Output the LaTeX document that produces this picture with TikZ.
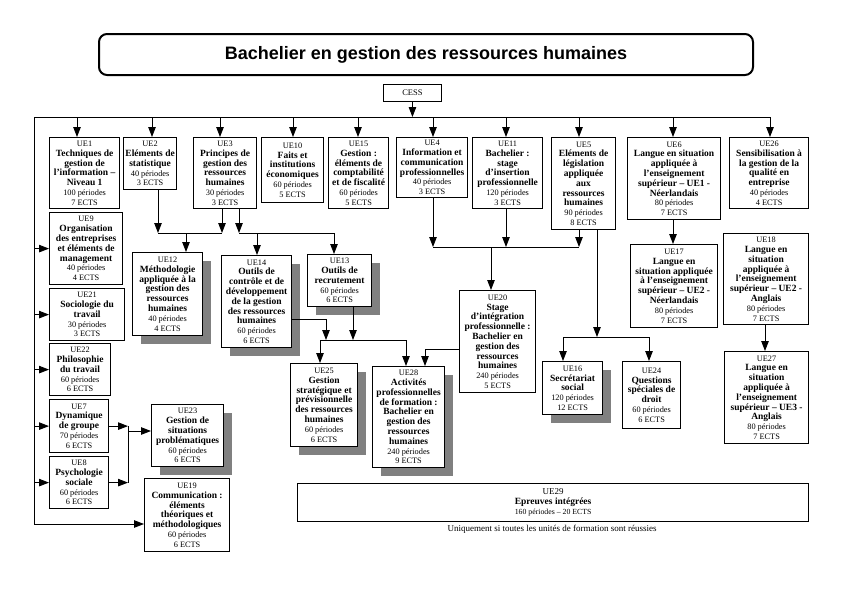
\documentclass[tikz,border=0pt]{standalone}
\usepackage{fontspec}
\setmainfont{Liberation Serif}
\newfontfamily\titlefont{Liberation Sans}
\usetikzlibrary{arrows.meta,shadows}
\definecolor{shgray}{RGB}{128,128,128}
\newcommand{\sm}[1]{{\fontsize{8.3}{9}\selectfont\mdseries #1}}
\begin{document}
\begin{tikzpicture}[x=1pt,y=-1pt,
  ue/.style={draw, line width=1.2pt, fill=white, anchor=north west, inner sep=1.5pt,
    align=center, font=\fontsize{9.5}{9.8}\selectfont\bfseries},
  sh/.style={ue, drop shadow={shadow xshift=8.5pt, shadow yshift=-8.5pt, fill=shgray, opacity=1}},
  con/.style={line width=0.9pt, -{Triangle[width=7.5pt,length=10pt]}},
  ln/.style={line width=0.9pt},
  ttl/.style={draw, line width=2pt, rounded corners=8pt, anchor=north west,
    font={\titlefont\bfseries\fontsize{18}{20}\selectfont}},
  small/.style={draw, line width=0.9pt, anchor=north west, inner sep=1pt,
    font=\fontsize{8.5}{9}\selectfont}
]
\useasboundingbox (0,0) rectangle (842,595);

% title and CESS
\node[ttl, minimum width=654pt, minimum height=41pt] (title) at (98,33) {Bachelier en gestion des ressources humaines};
\node[small, minimum width=58pt, minimum height=17pt] (cess) at (383,84) {CESS};

% top row
\node[ue, minimum width=70pt, minimum height=71pt] (ue1) at (49,137) {\sm{UE1}\\Techniques de\\gestion de\\l'information –\\Niveau 1\\\sm{100 périodes}\\\sm{7 ECTS}};
\node[ue, minimum width=53pt, minimum height=52pt] (ue2) at (123,137) {\sm{UE2}\\Eléments de\\statistique\\\sm{40 périodes}\\\sm{3 ECTS}};
\node[ue, minimum width=63pt, minimum height=71pt] (ue3) at (193,137) {\sm{UE3}\\Principes de\\gestion des\\ressources\\humaines\\\sm{30 périodes}\\\sm{3 ECTS}};
\node[ue, minimum width=62pt, minimum height=65pt] (ue10) at (261,137) {\sm{UE10}\\Faits et\\institutions\\économiques\\\sm{60 périodes}\\\sm{5 ECTS}};
\node[ue, minimum width=60pt, minimum height=71pt] (ue15) at (328,137) {\sm{UE15}\\Gestion :\\éléments de\\comptabilité\\et de fiscalité\\\sm{60 périodes}\\\sm{5 ECTS}};
\node[ue, minimum width=71pt, minimum height=60pt] (ue4) at (396,137) {\sm{UE4}\\Information et\\communication\\professionnelles\\\sm{40 périodes}\\\sm{3 ECTS}};
\node[ue, minimum width=70pt, minimum height=71pt] (ue11) at (472,137) {\sm{UE11}\\Bachelier :\\stage\\d'insertion\\professionnelle\\\sm{120 périodes}\\\sm{3 ECTS}};
\node[ue, minimum width=64pt, minimum height=92pt] (ue5) at (551,137) {\sm{UE5}\\Eléments de\\législation\\appliquée\\aux\\ressources\\humaines\\\sm{90 périodes}\\\sm{8 ECTS}};
\node[ue, minimum width=93pt, minimum height=82pt] (ue6) at (627,137) {\sm{UE6}\\Langue en situation\\appliquée à\\l'enseignement\\supérieur – UE1 -\\Néerlandais\\\sm{80 périodes}\\\sm{7 ECTS}};
\node[ue, minimum width=79pt, minimum height=71pt] (ue26) at (729,137) {\sm{UE26}\\Sensibilisation à\\la gestion de la\\qualité en\\entreprise\\\sm{40 périodes}\\\sm{4 ECTS}};

% left column
\node[ue, minimum width=73pt, minimum height=72pt] (ue9) at (49,212) {\sm{UE9}\\Organisation\\des entreprises\\et éléments de\\management\\\sm{40 périodes}\\\sm{4 ECTS}};
\node[ue, minimum width=75pt, minimum height=52pt] (ue21) at (49,288) {\sm{UE21}\\Sociologie du\\travail\\\sm{30 périodes}\\\sm{3 ECTS}};
\node[ue, minimum width=61pt, minimum height=52pt] (ue22) at (49,343) {\sm{UE22}\\Philosophie\\du travail\\\sm{60 périodes}\\\sm{6 ECTS}};
\node[ue, minimum width=59pt, minimum height=53pt] (ue7) at (49,399) {\sm{UE7}\\Dynamique\\de groupe\\\sm{70 périodes}\\\sm{6 ECTS}};
\node[ue, minimum width=59pt, minimum height=52pt] (ue8) at (49,456) {\sm{UE8}\\Psychologie\\sociale\\\sm{60 périodes}\\\sm{6 ECTS}};
\node[sh, minimum width=72pt, minimum height=62pt] (ue23) at (151,404) {\sm{UE23}\\Gestion de\\situations\\problématiques\\\sm{60 périodes}\\\sm{6 ECTS}};
\node[ue, minimum width=85pt, minimum height=73pt] (ue19) at (144,478) {\sm{UE19}\\Communication :\\éléments\\théoriques et\\méthodologiques\\\sm{60 périodes}\\\sm{6 ECTS}};

% middle
\node[sh, minimum width=70pt, minimum height=83pt] (ue12) at (132,252) {\sm{UE12}\\Méthodologie\\appliquée à la\\gestion des\\ressources\\humaines\\\sm{40 périodes}\\\sm{4 ECTS}};
\node[sh, minimum width=70pt, minimum height=92pt] (ue14) at (221,255) {\sm{UE14}\\Outils de\\contrôle et de\\développement\\de la gestion\\des ressources\\humaines\\\sm{60 périodes}\\\sm{6 ECTS}};
\node[sh, minimum width=64pt, minimum height=52pt] (ue13) at (307,254) {\sm{UE13}\\Outils de\\recrutement\\\sm{60 périodes}\\\sm{6 ECTS}};
\node[sh, minimum width=67pt, minimum height=83pt] (ue25) at (290,363) {\sm{UE25}\\Gestion\\stratégique et\\prévisionnelle\\des ressources\\humaines\\\sm{60 périodes}\\\sm{6 ECTS}};
\node[sh, minimum width=72pt, minimum height=101pt] (ue28) at (372,366) {\sm{UE28}\\Activités\\professionnelles\\de formation :\\Bachelier en\\gestion des\\ressources\\humaines\\\sm{240 périodes}\\\sm{9 ECTS}};
\node[ue, minimum width=76pt, minimum height=102pt] (ue20) at (459,290) {\sm{UE20}\\Stage\\d'intégration\\professionnelle :\\Bachelier en\\gestion des\\ressources\\humaines\\\sm{240 périodes}\\\sm{5 ECTS}};
\node[sh, minimum width=60pt, minimum height=53pt] (ue16) at (542,361) {\sm{UE16}\\Secrétariat\\social\\\sm{120 périodes}\\\sm{12 ECTS}};
\node[ue, minimum width=58pt, minimum height=67pt] (ue24) at (622,361) {\sm{UE24}\\Questions\\spéciales de\\droit\\\sm{60 périodes}\\\sm{6 ECTS}};
\node[ue, minimum width=87pt, minimum height=83pt] (ue17) at (630,244) {\sm{UE17}\\Langue en\\situation appliquée\\à l'enseignement\\supérieur – UE2 -\\Néerlandais\\\sm{80 périodes}\\\sm{7 ECTS}};
\node[ue, minimum width=85pt, minimum height=91pt] (ue18) at (723,233) {\sm{UE18}\\Langue en\\situation\\appliquée à\\l'enseignement\\supérieur – UE2 -\\Anglais\\\sm{80 périodes}\\\sm{7 ECTS}};
\node[ue, minimum width=84pt, minimum height=92pt] (ue27) at (724,351) {\sm{UE27}\\Langue en\\situation\\appliquée à\\l'enseignement\\supérieur – UE3 -\\Anglais\\\sm{80 périodes}\\\sm{7 ECTS}};
\node[ue, minimum width=511pt, minimum height=38pt] (ue29) at (297,483) {{\fontsize{9}{9.8}\selectfont\mdseries UE29}\\Epreuves intégrées\\{\fontsize{7.8}{9}\selectfont\mdseries 160 périodes – 20 ECTS}};
\node[font=\fontsize{9}{10}\selectfont, inner sep=0pt] (note) at (552,529) {Uniquement si toutes les unités de formation sont réussies};

% main bus
\coordinate (bl) at (34,117);
\coordinate (br) at (770,117);
\coordinate (lbot) at (34,524);
\draw[con] (cess.south) -- (cess.south |- bl);
\draw[ln] (bl) -- (br);
\draw[ln] (bl) -- (lbot);
\foreach \xx/\nn in {77/ue1,152/ue2,220/ue3,293/ue10,358/ue15,433/ue4,506/ue11,579/ue5,673/ue6,770/ue26}{
  \draw[con] (\xx,117) -- (\xx,117 |- \nn.north);
}
\foreach \nn in {ue9,ue21,ue22,ue7,ue8}{
  \draw[con] (\nn.west -| bl) -- (\nn.west);
}
\draw[con] (lbot) -- (lbot -| ue19.west);

% UE7, UE8 -> UE23
\coordinate (j23) at (128,431);
\draw[con] (ue7.east) -- (ue7.east -| j23);
\draw[con] (ue8.east) -- (ue8.east -| j23);
\draw[ln] (ue7.east -| j23) -- (ue8.east -| j23);
\draw[con] (j23) -- (j23 -| ue23.west);

% UE2, UE3 -> UE12
\coordinate (a2) at (158,233);
\coordinate (a3) at (222,233);
\coordinate (a12) at (186,233);
\draw[con] (a2 |- ue2.south) -- (a2);
\draw[con] (a3 |- ue3.south) -- (a3);
\draw[ln] (a2) -- (a3);
\draw[con] (a12) -- (a12 |- ue12.north);

% UE3 -> UE14, UE13
\coordinate (b3) at (239,233);
\coordinate (b14) at (257,233);
\coordinate (b13) at (334,233);
\draw[con] (b3 |- ue3.south) -- (b3);
\draw[ln] (b3) -- (b13);
\draw[con] (b14) -- (b14 |- ue14.north);
\draw[con] (b13) -- (b13 |- ue13.north);

% UE14, UE13 -> UE25, UE28
\coordinate (c14) at (326,340);
\coordinate (c13) at (353,340);
\coordinate (c25) at (320,340);
\coordinate (c28) at (406,340);
\draw[con] ([yshift=-18pt]ue14.east) -| (c14);
\draw[con] (c13 |- ue13.south) -- (c13);
\draw[ln] (c25) -- (c28);
\draw[con] (c25) -- (c25 |- ue25.north);
\draw[con] (c28) -- (c28 |- ue28.north);

% UE20 -> UE28
\coordinate (d28) at (425,349);
\draw[con] (ue20.west |- d28) -| (d28 |- ue28.north);

% UE4, UE11, UE5 -> UE20
\coordinate (e4) at (433,247);
\coordinate (e11) at (506,247);
\coordinate (e5) at (579,247);
\coordinate (e20) at (491,247);
\draw[con] (e4 |- ue4.south) -- (e4);
\draw[con] (e11 |- ue11.south) -- (e11);
\draw[con] (e5 |- ue5.south) -- (e5);
\draw[ln] (e4) -- (e5);
\draw[con] (e20) -- (e20 |- ue20.north);

% UE5 -> UE16, UE24
\coordinate (f5) at (597,337);
\coordinate (f16) at (563,337);
\coordinate (f24) at (649,337);
\draw[con] (f5 |- ue5.south) -- (f5);
\draw[ln] (f16) -- (f24);
\draw[con] (f16) -- (f16 |- ue16.north);
\draw[con] (f24) -- (f24 |- ue24.north);

% UE6 -> UE17, UE18 -> UE27
\coordinate (g6) at (673,0);
\coordinate (g18) at (765,0);
\draw[con] (g6 |- ue6.south) -- (g6 |- ue17.north);
\draw[con] (g18 |- ue18.south) -- (g18 |- ue27.north);
\end{tikzpicture}
\end{document}
